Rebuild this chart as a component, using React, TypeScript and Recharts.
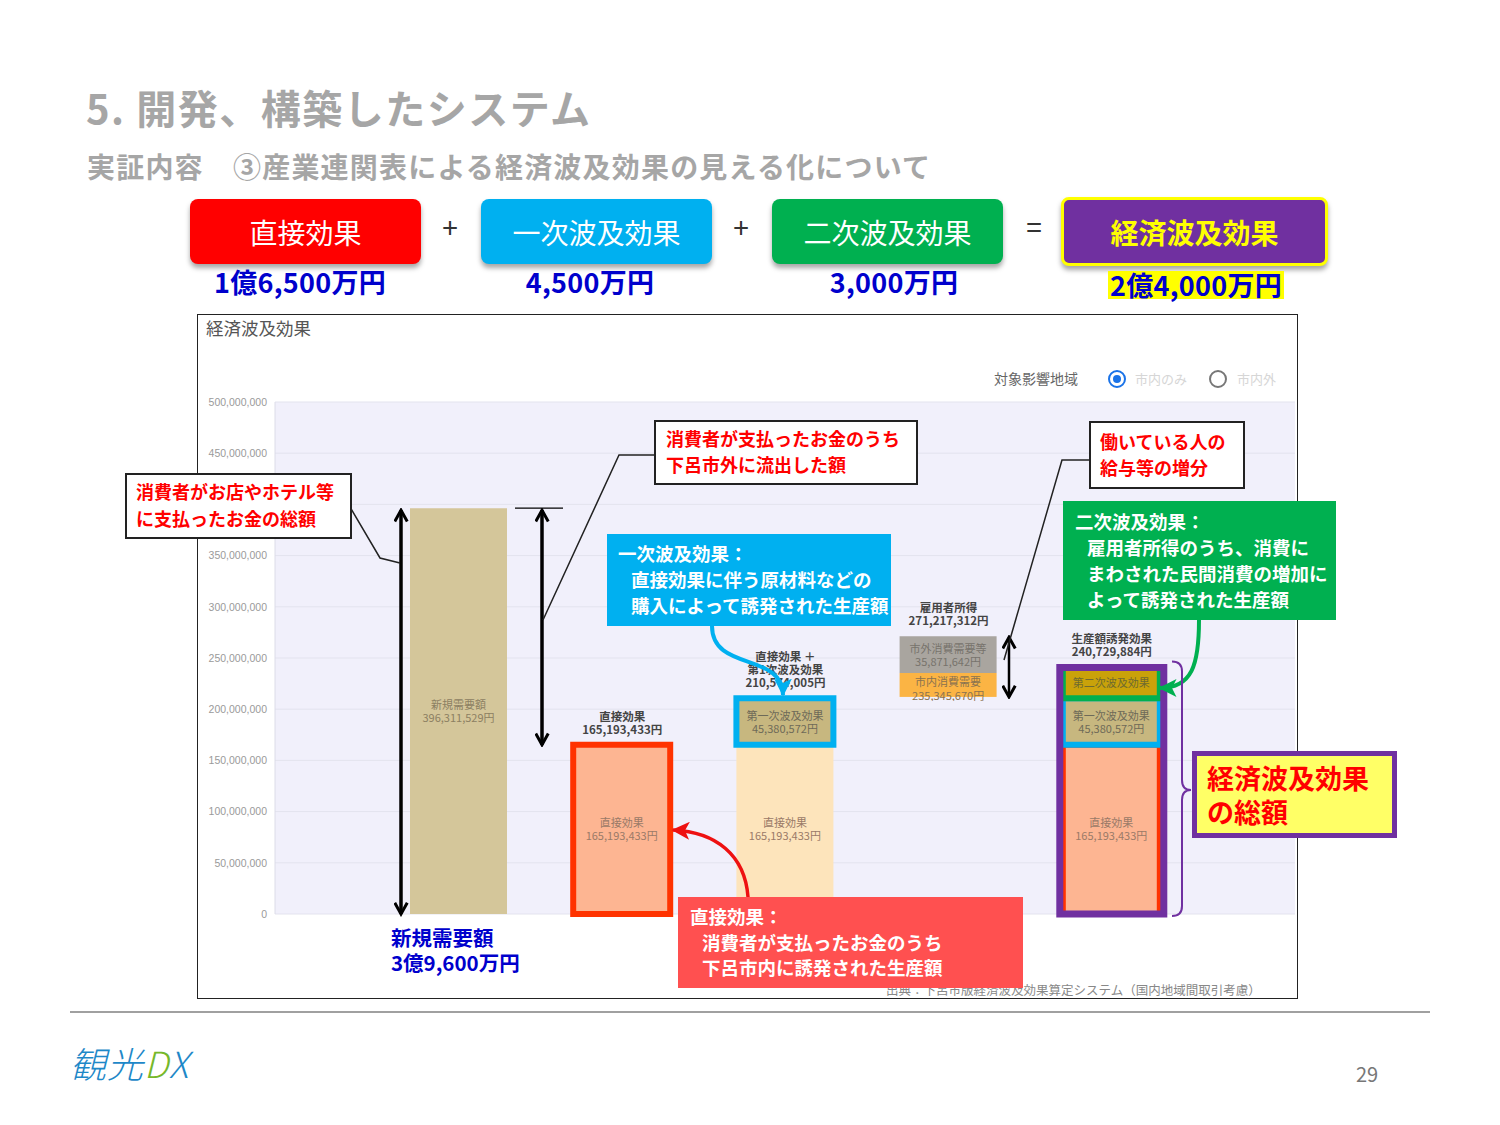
import { Bar, BarChart, CartesianGrid, Cell, LabelList, XAxis, YAxis } from "recharts";

const FONT = '"Noto Sans CJK JP", "Noto Sans", sans-serif';

// --- data ---
const categories = ["新規需要額", "直接効果", "直接効果＋第1次波及効果", "雇用者所得", "生産額誘発効果"];
const newDemand = [396311529, 0, 0, 0, 0];
const direct = [0, 165193433, 165193433, 0, 165193433];
const firstWave = [0, 0, 45380572, 0, 45380572];
const secondWave = [0, 0, 0, 0, 30155879];
const inCityDemand = [0, 0, 0, 235345670, 0];
const outCityDemand = [0, 0, 0, 35871642, 0];
const totals = [396311529, 165193433, 210574005, 271217312, 240729884];
const captions = ["", "直接効果", "直接効果 ＋\n第1次波及効果", "雇用者所得", "生産額誘発効果"];
const yTicks = [0, 50000000, 100000000, 150000000, 200000000, 250000000, 300000000, 350000000, 400000000, 450000000, 500000000];
// the slide hides the lower part of the 市内消費需要 bar below this level
const VISIBLE_FLOOR = 212000000;

const data = categories.map((name, i) => ({
  name,
  newDemand: newDemand[i],
  direct: direct[i],
  firstWave: firstWave[i],
  secondWave: secondWave[i],
  inCity: inCityDemand[i],
  outCity: outCityDemand[i],
  total: totals[i],
}));

// --- chart geometry (used for the overlay annotations) ---
const CHART = { left: 197, top: 314, width: 1101, height: 685 };
const MARGIN = { top: 88, right: 3, bottom: 85, left: 0 };
const Y_AXIS_W = 78;
const X_PAD = 102;
const PLOT_TOP = CHART.top + MARGIN.top;
const PLOT_H = CHART.height - MARGIN.top - MARGIN.bottom;
const Y_MAX = 500000000;
const yOf = (v: number) => PLOT_TOP + PLOT_H * (1 - v / Y_MAX);

const fmt = (v: number) => v.toLocaleString("en-US");

// labels get dataKey="name", so the category tells us which value to print
const innerLabel =
  (name: string, values: number[], color: string, onlyName = false) =>
  (p: any) => {
    const i = categories.indexOf(p.value);
    const v = values[i];
    if (!v) return null;
    const cx = p.x + p.width / 2;
    const cy = p.y + p.height / 2;
    return (
      <text x={cx} y={cy} textAnchor="middle" fontSize={11} fill={color} fontFamily={FONT}>
        <tspan x={cx} dy={onlyName ? 4 : -2}>{name}</tspan>
        {!onlyName && (
          <tspan x={cx} dy={13}>
            {fmt(v)}円
          </tspan>
        )}
      </text>
    );
  };

const topCaption = (p: any) => {
  const i = categories.indexOf(p.value);
  const cap = captions[i];
  if (!cap) return null;
  const lines = [...cap.split("\n"), `${fmt(totals[i])}円`];
  const cx = p.x + p.width / 2;
  const base = p.y - 11;
  return (
    <text textAnchor="middle" fontSize={11.5} fontWeight={700} fill="#444" fontFamily={FONT}>
      {lines.map((l, k) => (
        <tspan key={k} x={cx} y={base - (lines.length - 1 - k) * 13}>
          {l}
        </tspan>
      ))}
    </text>
  );
};

const InCityShape = (p: any) => {
  const v = inCityDemand[p.index];
  if (!v || !p.height) return null;
  const vis = p.height * (1 - VISIBLE_FLOOR / v);
  const cx = p.x + p.width / 2;
  return (
    <g>
      <defs>
        <clipPath id="incityClip">
          <rect x={p.x} y={p.y} width={p.width} height={vis + 4} />
        </clipPath>
      </defs>
      <rect x={p.x} y={p.y} width={p.width} height={vis} fill="#fbb444" />
      <text clipPath="url(#incityClip)" textAnchor="middle" fontSize={11} fill="#8a7250" fontFamily={FONT}>
        <tspan x={cx} y={p.y + 13}>市内消費需要</tspan>
        <tspan x={cx} y={p.y + 27}>{fmt(v)}円</tspan>
      </text>
    </g>
  );
};

const directFill = ["none", "#fdb592", "#fde4bb", "none", "#fdb592"];
const directStroke = ["none", "#ff3300", "none", "none", "#ff3300"];

function Box(p: {
  x: number; y: number; w: number; h: number; bg: string; color: string; border?: string;
  lines: string[]; size: number; lh: number; padX: number; padY: number; indent?: number;
}) {
  return (
    <div
      style={{
        position: "absolute", left: p.x, top: p.y, width: p.w, height: p.h, boxSizing: "border-box",
        background: p.bg, border: p.border, color: p.color, fontFamily: FONT, fontWeight: 700,
        fontSize: p.size, lineHeight: `${p.lh}px`, padding: `${p.padY}px ${p.padX}px`, whiteSpace: "nowrap",
      }}
    >
      {p.lines.map((l, i) => (
        <div key={i} style={{ paddingLeft: i > 0 ? p.indent ?? 0 : 0 }}>{l}</div>
      ))}
    </div>
  );
}

function Pill(p: { x: number; label: string; bg: string; color?: string; w?: number; border?: string; bold?: boolean }) {
  return (
    <div
      style={{
        position: "absolute", left: p.x, top: p.border ? 197 : 199, width: p.w ?? 231, height: p.border ? 69 : 65,
        boxSizing: "border-box", background: p.bg, border: p.border, borderRadius: 8,
        boxShadow: "0 4px 5px rgba(0,0,0,0.35)", color: p.color ?? "#fff", fontFamily: FONT,
        fontWeight: p.bold ? 700 : 400, fontSize: 28, display: "flex", alignItems: "center", justifyContent: "center",
      }}
    >
      {p.label}
    </div>
  );
}

const amountStyle = (cx: number): React.CSSProperties => ({
  position: "absolute", left: cx - 150, width: 300, top: 265, textAlign: "center", fontFamily: FONT,
  fontWeight: 700, fontSize: 27, color: "#0000cc", lineHeight: "34px", letterSpacing: 0.3,
});

export default function App() {
  const a1 = yOf(newDemand[0]);
  return (
    <div style={{ position: "absolute", left: 0, top: 0, width: 1500, height: 1125, background: "#fff", overflow: "hidden", fontFamily: FONT }}>
      {/* titles */}
      <div style={{ position: "absolute", left: 86, top: 78, fontSize: 40, fontWeight: 700, color: "#a6a6a6", whiteSpace: "nowrap", letterSpacing: 1.5 }}>
        5. 開発、構築したシステム
      </div>
      <div style={{ position: "absolute", left: 87, top: 146, fontSize: 28, fontWeight: 700, color: "#a6a6a6", whiteSpace: "nowrap", letterSpacing: 1.2 }}>
        実証内容　③産業連関表による経済波及効果の見える化について
      </div>

      {/* equation row */}
      <Pill x={190} label="直接効果" bg="#ff0000" />
      <Pill x={481} label="一次波及効果" bg="#00b0f0" />
      <Pill x={772} label="二次波及効果" bg="#00b050" />
      <Pill x={1061} w={267} label="経済波及効果" bg="#7030a0" color="#ffff00" border="3px solid #ffff00" bold />
      {[
        { x: 450, s: "+" },
        { x: 741, s: "+" },
        { x: 1034, s: "=" },
      ].map((o) => (
        <div key={o.x} style={{ position: "absolute", left: o.x - 15, width: 30, top: 206, textAlign: "center", fontSize: 28, color: "#333" }}>
          {o.s}
        </div>
      ))}
      <div style={amountStyle(300)}>1億6,500万円</div>
      <div style={amountStyle(590)}>4,500万円</div>
      <div style={amountStyle(894)}>3,000万円</div>
      <div style={{ position: "absolute", left: 1108, top: 271, width: 176, height: 28, background: "#ffff00" }} />
      <div style={{ ...amountStyle(1196), top: 268 }}>2億4,000万円</div>

      {/* chart frame */}
      <div style={{ position: "absolute", left: CHART.left, top: CHART.top, width: CHART.width, height: CHART.height, boxSizing: "border-box", border: "1px solid #222" }} />
      <div style={{ position: "absolute", left: 206, top: 315, fontSize: 17.5, color: "#555" }}>経済波及効果</div>
      <div style={{ position: "absolute", left: 994, top: 368, fontSize: 14, color: "#666", whiteSpace: "nowrap" }}>対象影響地域</div>
      <div style={{ position: "absolute", left: 1108, top: 370, width: 18, height: 18, boxSizing: "border-box", borderRadius: 9, border: "2px solid #1a73e8", display: "flex", alignItems: "center", justifyContent: "center" }}>
        <div style={{ width: 8, height: 8, borderRadius: 4, background: "#1a73e8" }} />
      </div>
      <div style={{ position: "absolute", left: 1135, top: 369, fontSize: 13, color: "#d6d6d6" }}>市内のみ</div>
      <div style={{ position: "absolute", left: 1209, top: 370, width: 18, height: 18, boxSizing: "border-box", borderRadius: 9, border: "2px solid #777" }} />
      <div style={{ position: "absolute", left: 1237, top: 369, fontSize: 13, color: "#d6d6d6" }}>市内外</div>
      <div style={{ position: "absolute", left: 886, top: 980, fontSize: 12.5, color: "#888", whiteSpace: "nowrap" }}>
        出典：下呂市版経済波及効果算定システム（国内地域間取引考慮）
      </div>

      <div style={{ position: "absolute", left: CHART.left, top: CHART.top }}>
        <BarChart width={CHART.width} height={CHART.height} data={data} margin={MARGIN}>
          <CartesianGrid vertical={false} stroke="#e3e3ee" fill="#f1f0fb" />
          <XAxis dataKey="name" hide padding={{ left: X_PAD, right: X_PAD }} />
          <XAxis xAxisId="outline" dataKey="name" hide padding={{ left: X_PAD, right: X_PAD }} />
          <YAxis
            domain={[0, Y_MAX]}
            ticks={yTicks}
            width={Y_AXIS_W}
            tickLine={false}
            axisLine={{ stroke: "#dcdce8" }}
            tick={{ fontSize: 10.5, fill: "#9a9a9a", fontFamily: "Liberation Sans, Arial, sans-serif" }}
            tickFormatter={(v: number) => fmt(v)}
            interval={0}
          />
          <Bar dataKey="newDemand" stackId="s" barSize={97} fill="#d4c69a" isAnimationActive={false}>
            <LabelList dataKey="name" content={innerLabel("新規需要額", newDemand, "#8c8062")} />
          </Bar>
          <Bar dataKey="direct" stackId="s" barSize={97} isAnimationActive={false}>
            {data.map((_, i) => (
              <Cell key={i} fill={directFill[i]} stroke={directStroke[i]} strokeWidth={6} />
            ))}
            <LabelList dataKey="name" content={innerLabel("直接効果", direct, "#9a7a68")} />
          </Bar>
          <Bar dataKey="firstWave" stackId="s" barSize={97} fill="#c7b77f" stroke="#00b0f0" strokeWidth={6} isAnimationActive={false}>
            <LabelList dataKey="name" content={innerLabel("第一次波及効果", firstWave, "#6e6a58")} />
          </Bar>
          <Bar dataKey="secondWave" stackId="s" barSize={97} fill="#c9a20a" stroke="#00b050" strokeWidth={6} isAnimationActive={false}>
            <LabelList dataKey="name" content={innerLabel("第二次波及効果", secondWave, "#6e6a30", true)} />
          </Bar>
          <Bar dataKey="inCity" stackId="s" barSize={97} shape={InCityShape} isAnimationActive={false} />
          <Bar dataKey="outCity" stackId="s" barSize={97} fill="#a9a59f" isAnimationActive={false}>
            <LabelList dataKey="name" content={innerLabel("市外消費需要等", outCityDemand, "#77736c")} />
          </Bar>
          <Bar dataKey="total" xAxisId="outline" barSize={104} isAnimationActive={false}>
            {data.map((_, i) => (
              <Cell key={i} fill="none" stroke={i === 4 ? "#7030a0" : "none"} strokeWidth={7} />
            ))}
            <LabelList dataKey="name" content={topCaption} />
          </Bar>
        </BarChart>
      </div>

      {/* annotation lines and arrows */}
      <svg width={1500} height={1125} style={{ position: "absolute", left: 0, top: 0, pointerEvents: "none" }}>
        <defs>
          <marker id="chev" viewBox="0 0 12 12" refX="10" refY="6" markerWidth="15" markerHeight="15" markerUnits="userSpaceOnUse" orient="auto-start-reverse">
            <path d="M1,1 L10,6 L1,11" fill="none" stroke="#000" strokeWidth="2.4" />
          </marker>
          {[
            { id: "tipCyan", c: "#00b0f0" },
            { id: "tipGreen", c: "#00b050" },
            { id: "tipRed", c: "#ee1111" },
          ].map((m) => (
            <marker key={m.id} id={m.id} viewBox="0 0 12 12" refX="11" refY="6" markerWidth="18" markerHeight="18" markerUnits="userSpaceOnUse" orient="auto">
              <path d="M0,0 L12,6 L0,12 L3,6 z" fill={m.c} />
            </marker>
          ))}
        </defs>
        <line x1={401} y1={a1 + 2} x2={401} y2={yOf(0)} stroke="#000" strokeWidth={3.5} markerStart="url(#chev)" markerEnd="url(#chev)" />
        <line x1={542} y1={a1 + 2} x2={542} y2={yOf(direct[1])} stroke="#000" strokeWidth={3.5} markerStart="url(#chev)" markerEnd="url(#chev)" />
        <line x1={515} y1={a1} x2={563} y2={a1} stroke="#000" strokeWidth={1.2} />
        <line x1={1009} y1={yOf(totals[3]) + 1} x2={1009} y2={yOf(VISIBLE_FLOOR)} stroke="#000" strokeWidth={2.5} markerStart="url(#chev)" markerEnd="url(#chev)" />
        <polyline points="350,507 380,558 400,563" fill="none" stroke="#222" strokeWidth={1.5} />
        <polyline points="654,455 619,455 543,620" fill="none" stroke="#222" strokeWidth={1.5} />
        <polyline points="1089,460 1062,460 1004,660" fill="none" stroke="#222" strokeWidth={1.5} />
        <path d="M 712 626 C 712 672, 783 652, 783 695" fill="none" stroke="#00b0f0" strokeWidth={4} markerEnd="url(#tipCyan)" />
        <path d="M 1199 620 C 1199 665, 1192 688, 1160 688" fill="none" stroke="#00b050" strokeWidth={4} markerEnd="url(#tipGreen)" />
        <path d="M 748 897 C 745 855, 716 832, 673 830" fill="none" stroke="#ee1111" strokeWidth={3.5} markerEnd="url(#tipRed)" />
        <path
          d={`M 1172 ${yOf(totals[4]) - 6} Q 1182 ${yOf(totals[4]) - 6} 1182 ${yOf(totals[4]) + 4} L 1182 780 Q 1182 790 1191 790 Q 1182 790 1182 800 L 1182 906 Q 1182 916 1172 916`}
          fill="none"
          stroke="#7030a0"
          strokeWidth={2}
        />
        <line x1={70} y1={1012} x2={1430} y2={1012} stroke="#a0a0a0" strokeWidth={2} />
      </svg>

      {/* callout boxes */}
      <Box x={125} y={473} w={227} h={66} bg="#fff" color="#ff0000" border="2px solid #222" size={18} lh={27} padX={9} padY={3} lines={["消費者がお店やホテル等", "に支払ったお金の総額"]} />
      <Box x={654} y={420} w={264} h={65} bg="#fff" color="#ff0000" border="2px solid #222" size={18} lh={26} padX={10} padY={3} lines={["消費者が支払ったお金のうち", "下呂市外に流出した額"]} />
      <Box x={1089} y={421} w={156} h={68} bg="#fff" color="#ff0000" border="2px solid #222" size={18} lh={26} padX={9} padY={5} lines={["働いている人の", "給与等の増分"]} />
      <Box x={607} y={534} w={284} h={92} bg="#00b0f0" color="#fff" size={18.5} lh={26} padX={11} padY={6} indent={13} lines={["一次波及効果：", "直接効果に伴う原材料などの", "購入によって誘発された生産額"]} />
      <Box x={1063} y={501} w={273} h={119} bg="#00b050" color="#fff" size={18.5} lh={26} padX={12} padY={7} indent={12} lines={["二次波及効果：", "雇用者所得のうち、消費に", "まわされた民間消費の増加に", "よって誘発された生産額"]} />
      <Box x={678} y={897} w={345} h={91} bg="#ff5050" color="#fff" size={18.5} lh={25.5} padX={12} padY={7} indent={12} lines={["直接効果：", "消費者が支払ったお金のうち", "下呂市内に誘発された生産額"]} />
      <Box x={1192} y={751} w={205} h={87} bg="#ffff66" color="#ff0000" border="5px solid #7030a0" size={27} lh={34} padX={10} padY={5} lines={["経済波及効果", "の総額"]} />
      <div style={{ position: "absolute", left: 391, top: 925, fontSize: 20.5, fontWeight: 700, color: "#0000cc", lineHeight: "25px", whiteSpace: "nowrap" }}>
        新規需要額
        <br />
        3億9,600万円
      </div>

      {/* footer */}
      <div style={{ position: "absolute", left: 70, top: 1036, fontSize: 36, fontStyle: "italic", fontWeight: 300, letterSpacing: 1, whiteSpace: "nowrap" }}>
        <span style={{ color: "#1e88c8" }}>観光</span>
        <span style={{ color: "#76b82a" }}>D</span>
        <span style={{ color: "#1e88c8" }}>X</span>
      </div>
      <div style={{ position: "absolute", left: 1356, top: 1059, fontSize: 20, color: "#777" }}>29</div>
    </div>
  );
}
